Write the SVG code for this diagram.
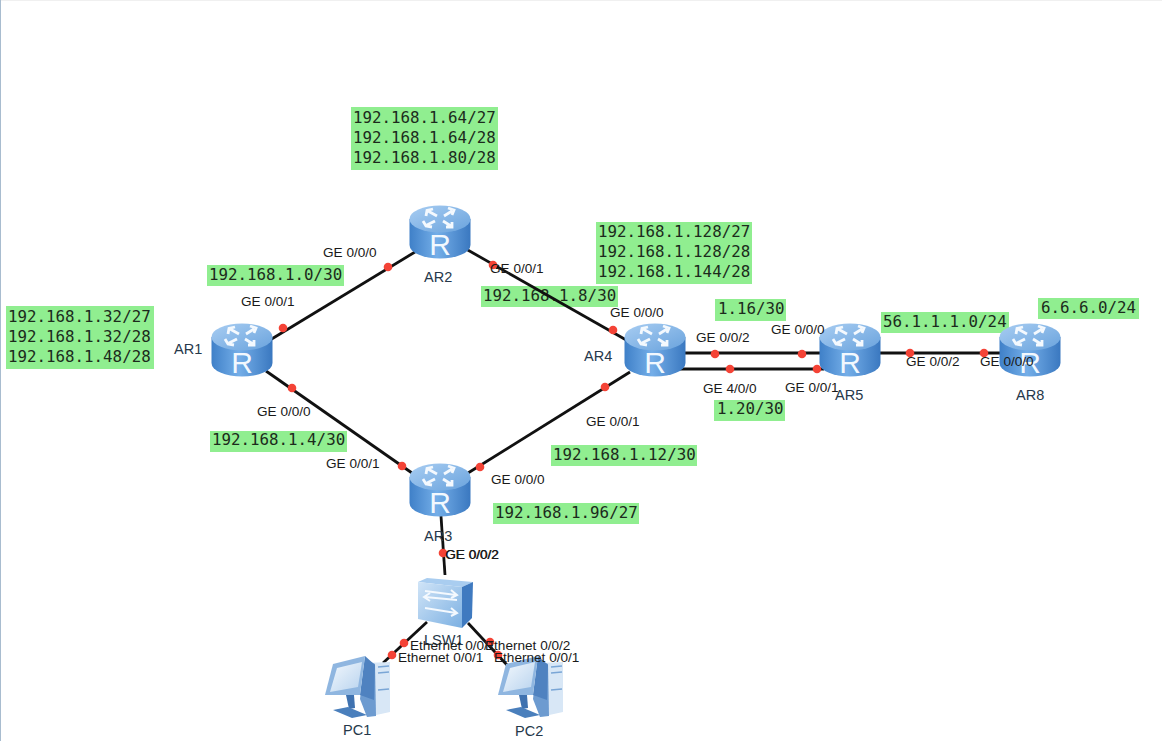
<svg xmlns="http://www.w3.org/2000/svg" width="1162" height="741" viewBox="0 0 1162 741">
<style>
.bg{fill:#90ee90}
.n{font:15.8px "DejaVu Sans Mono","Liberation Mono",monospace;fill:#1c2b1c}
.l{font:13.6px "Liberation Sans",Arial,sans-serif;fill:#1a1a1a}
.m{font:14.5px "Liberation Sans",Arial,sans-serif;fill:#26384a}
.c{stroke:#111;stroke-width:2.8;fill:none}
.d{fill:#f44336}
</style>
<defs>
<linearGradient id="rb" x1="0" x2="1" y1="0" y2="0"><stop offset="0" stop-color="#3f80c8"/><stop offset=".45" stop-color="#74aee8"/><stop offset="1" stop-color="#3a78c0"/></linearGradient>
<linearGradient id="rt" x1="0" x2="1" y1="0" y2="1"><stop offset="0" stop-color="#a8cdf2"/><stop offset="1" stop-color="#6aa3dd"/></linearGradient>
<linearGradient id="sw" x1="0" x2="1" y1="0" y2="1"><stop offset="0" stop-color="#d0e4f7"/><stop offset="1" stop-color="#7cb0e2"/></linearGradient>
<linearGradient id="scr" x1="0" x2="1" y1="0" y2="1"><stop offset="0" stop-color="#f3f8fd"/><stop offset="1" stop-color="#b8d3ee"/></linearGradient>
<g id="router">
<path d="M-30.500-13V13A30.500 13.500 0 0 0 30.500 13V-13Z" fill="url(#rb)"/>
<ellipse cy="-13" rx="30.500" ry="13.500" fill="url(#rt)"/>
<g stroke="#f4f9fe" stroke-width="2.800" fill="none">
<path d="M-3-16-12-21M-14-16-13-21.500-7-23"/>
<path d="M4-16 12-21M8-24 14-22 12-17"/>
<path d="M-5-11-13-7M-17-11-14-6-8-5"/>
<path d="M3-11 11-6M6-5 12-5 12-10"/>
</g>
<text x="0" y="23" text-anchor="middle" font-family="Liberation Sans,Arial,sans-serif" font-size="30" fill="#f2f8fe">R</text>
</g>
<g id="pc">
<path d="M8-24 33-25 33 25 10 30 4 10Z" fill="#d8e7f6"/>
<path d="M8-28 18-23 19 29 10 30 3 12Z" fill="#6d9bd0"/>
<path d="M8-31 18-22 17 13 3 8Z" fill="#4f82c0"/>
<path d="M-24-23 8-31 3 8-32 8Z" fill="#8fb6e0"/>
<path d="M-20-19 5-25 1 0-27 5Z" fill="url(#scr)"/>
<path d="M-11 8-3 8-2 21-8 22Z" fill="#3f72b0"/>
<path d="M-24 23-9 20 10 28-5 31Z" fill="#4a7fbc"/>
<path d="M21-20 32-21M21-14 32-15M21 3 32 2" stroke="#7aa6d6" stroke-width="1.600"/>
</g>
</defs>
<rect width="1162" height="741" fill="#fff"/>
<rect x="0" y="0" width="1162" height="1" fill="#f0f0f0"/>
<rect x="0" y="0" width="1" height="741" fill="#a8bccf"/>
<g id="subnets">
<rect class="bg" x="351" y="107" width="147" height="63"/>
<text class="n" x="353" y="123">192.168.1.64/27</text><text class="n" x="353" y="143">192.168.1.64/28</text><text class="n" x="353" y="163">192.168.1.80/28</text>
<rect class="bg" x="596" y="222" width="156" height="62"/>
<text class="n" x="598" y="237">192.168.1.128/27</text><text class="n" x="598" y="257">192.168.1.128/28</text><text class="n" x="598" y="277">192.168.1.144/28</text>
<rect class="bg" x="6" y="306" width="148" height="63"/>
<text class="n" x="8" y="322">192.168.1.32/27</text><text class="n" x="8" y="342">192.168.1.32/28</text><text class="n" x="8" y="362">192.168.1.48/28</text>
<rect class="bg" x="207" y="265" width="137" height="21"/><text class="n" x="209" y="280">192.168.1.0/30</text>
<rect class="bg" x="481" y="286" width="137" height="21"/><text class="n" x="483" y="301">192.168.1.8/30</text>
<rect class="bg" x="210" y="431" width="137" height="21"/><text class="n" x="212" y="445">192.168.1.4/30</text>
<rect class="bg" x="551" y="445" width="146" height="21"/><text class="n" x="553" y="460">192.168.1.12/30</text>
<rect class="bg" x="493" y="503" width="146" height="21"/><text class="n" x="495" y="518">192.168.1.96/27</text>
<rect class="bg" x="715" y="299" width="71" height="22"/><text class="n" x="718" y="314">1.16/30</text>
<rect class="bg" x="714" y="400" width="71" height="21"/><text class="n" x="717" y="414">1.20/30</text>
<rect class="bg" x="881" y="312" width="128" height="21"/><text class="n" x="883" y="327">56.1.1.1.0/24</text>
<rect class="bg" x="1038" y="298" width="101" height="21"/><text class="n" x="1041" y="313">6.6.6.0/24</text>
</g>
<g id="connectors">
<path class="c" d="M415 252 270 340"/>
<path class="c" d="M466 249 628 341"/>
<path class="c" d="M266 371 412 473"/>
<path class="c" d="M630 372 468 473"/>
<path class="c" d="M680 353H822"/>
<path class="c" d="M678 369H824"/>
<path class="c" d="M878 353H1002"/>
<path class="c" d="M441 516 445 575"/>
<path class="c" d="M427 622 383 663"/>
<path class="c" d="M468 623 507 665"/>
<g class="d">
<circle cx="388" cy="267" r="4.300"/><circle cx="283" cy="328" r="4.300"/><circle cx="493" cy="265" r="4.300"/><circle cx="613" cy="330" r="4.300"/>
<circle cx="292" cy="388" r="4.300"/><circle cx="402" cy="466" r="4.300"/><circle cx="480" cy="467" r="4.300"/><circle cx="605" cy="387" r="4.300"/>
<circle cx="715" cy="354" r="4.300"/><circle cx="802" cy="354" r="4.300"/><circle cx="730" cy="369" r="4.300"/><circle cx="817" cy="369" r="4.300"/>
<circle cx="910" cy="353" r="4.300"/><circle cx="984" cy="353" r="4.300"/><circle cx="443" cy="553" r="4.300"/>
<circle cx="404" cy="643" r="4.300"/><circle cx="392" cy="655" r="4.300"/><circle cx="490" cy="642" r="4.300"/><circle cx="498" cy="655" r="4.300"/>
</g>
</g>
<g id="AR1"><use href="#router" x="242" y="350"/><text class="m" x="174" y="354">AR1</text></g>
<g id="AR2"><use href="#router" x="440" y="232"/><text class="m" x="424" y="282">AR2</text></g>
<g id="AR3"><use href="#router" x="440" y="490"/><text class="m" x="424" y="541">AR3</text></g>
<g id="AR4"><use href="#router" x="655" y="350"/><text class="m" x="584" y="361">AR4</text></g>
<g id="AR5"><use href="#router" x="850" y="350"/><text class="m" x="835" y="400">AR5</text></g>
<g id="AR8"><use href="#router" x="1030" y="350"/><text class="m" x="1016" y="400">AR8</text></g>
<g id="LSW1">
<path d="M418 582 427 578 473 582 462 587Z" fill="#a9cdf0"/>
<path d="M462 587 473 582 472 618 462 628Z" fill="#3f7ac0"/>
<path d="M418 582 462 587V628L418 619Z" fill="url(#sw)"/>
<g stroke="#f4f9fe" stroke-width="2" fill="none"><path d="M425 591 456 595M451 590 457 595 451 598"/><path d="M457 600 425 597M430 593 424 597 430 601"/><path d="M425 608 456 613M451 608 457 613 451 616"/></g>
<text class="m" x="424" y="645">LSW1</text>
</g>
<g id="PC1"><use href="#pc" x="357" y="687"/><text class="m" x="343" y="735">PC1</text></g>
<g id="PC2"><use href="#pc" x="530" y="687"/><text class="m" x="515" y="736">PC2</text></g>
<g id="ports">
<text class="l" x="323" y="257">GE 0/0/0</text>
<text class="l" x="241" y="306">GE 0/0/1</text>
<text class="l" x="490" y="273">GE 0/0/1</text>
<text class="l" x="610" y="317">GE 0/0/0</text>
<text class="l" x="257" y="416">GE 0/0/0</text>
<text class="l" x="326" y="468">GE 0/0/1</text>
<text class="l" x="491" y="484">GE 0/0/0</text>
<text class="l" x="586" y="426">GE 0/0/1</text>
<text class="l" x="696" y="342">GE 0/0/2</text>
<text class="l" x="771" y="334">GE 0/0/0</text>
<text class="l" x="703" y="393">GE 4/0/0</text>
<text class="l" x="785" y="392">GE 0/0/1</text>
<text class="l" x="906" y="366">GE 0/0/2</text>
<text class="l" x="980" y="366">GE 0/0/0</text>
<text class="l" x="445" y="559">GE 0/0/2</text>
<text class="l" x="445.500" y="559">GE 0/0/2</text>
<text class="l" x="410" y="650">Ethernet 0/0/1</text>
<text class="l" x="398" y="662">Ethernet 0/0/1</text>
<text class="l" x="485" y="650">Ethernet 0/0/2</text>
<text class="l" x="494" y="662">Ethernet 0/0/1</text>
</g>
</svg>
